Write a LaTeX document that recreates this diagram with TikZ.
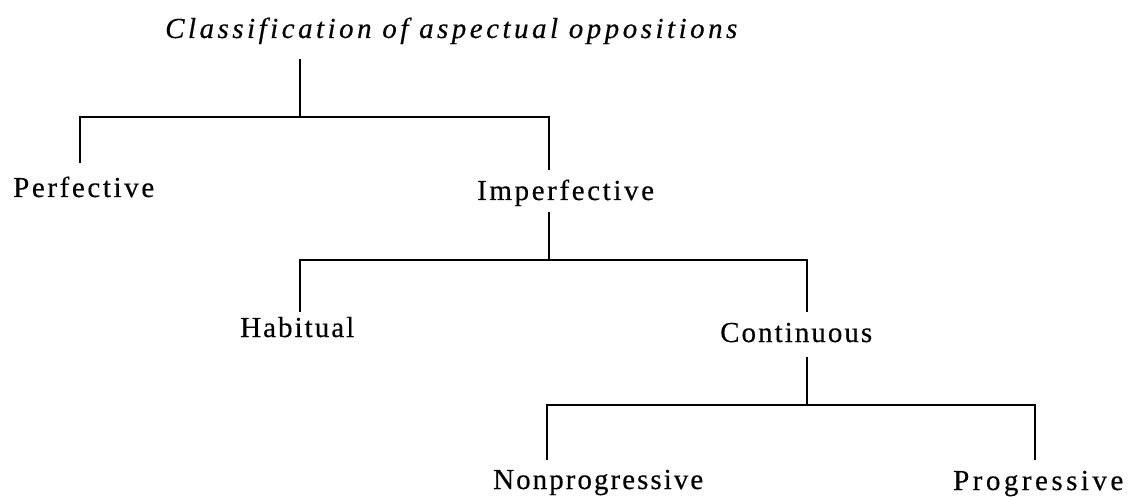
\documentclass[tikz,border=0pt]{standalone}
\usepackage{fontspec}
\setmainfont{Liberation Serif}
\begin{document}
\begin{tikzpicture}[x=1pt,y=-1pt,
  lbl/.style={inner sep=0pt, anchor=base west,
    font=\fontsize{29}{29}\selectfont\addfontfeatures{LetterSpace=#1,FakeBold=0.4}},
  lbl/.default=9,
  ttl/.style={inner sep=0pt, anchor=base west,
    font=\fontsize{29}{29}\selectfont\itshape\addfontfeatures{LetterSpace=#1,FakeBold=0.4}},
  tree/.style={line width=1.5pt}]
\useasboundingbox (0,0) rectangle (1133,497);

% labels
\node[ttl=12] (title) at (165,38) {Classification of aspectual oppositions};
\node[lbl=9] (perf) at (13,197) {Perfective};
\node[lbl=9] (imperf) at (477,200) {Imperfective};
\node[lbl=7] (hab) at (240,337) {Habitual};
\node[lbl=7] (cont) at (720,342) {Continuous};
\node[lbl=7] (nonprog) at (493,489) {Nonprogressive};
\node[lbl=12] (prog) at (953,490) {Progressive};

% connector end points
\coordinate (t1) at (300,59);
\coordinate (j1) at (300,117);
\coordinate (p1) at (80,163);
\coordinate (i1) at (549,170);
\coordinate (i2) at (549,212);
\coordinate (j2) at (549,260);
\coordinate (h1) at (300,312);
\coordinate (c1) at (807,312);
\coordinate (c2) at (807,357);
\coordinate (j3) at (807,405);
\coordinate (n1) at (547,460);
\coordinate (g1) at (1035,460);

% tree
\draw[tree] (t1) -- (j1);
\draw[tree] (p1) -- (p1 |- j1) -- (i1 |- j1) -- (i1);
\draw[tree] (i2) -- (j2);
\draw[tree] (h1) -- (h1 |- j2) -- (c1 |- j2) -- (c1);
\draw[tree] (c2) -- (j3);
\draw[tree] (n1) -- (n1 |- j3) -- (g1 |- j3) -- (g1);
\end{tikzpicture}
\end{document}
